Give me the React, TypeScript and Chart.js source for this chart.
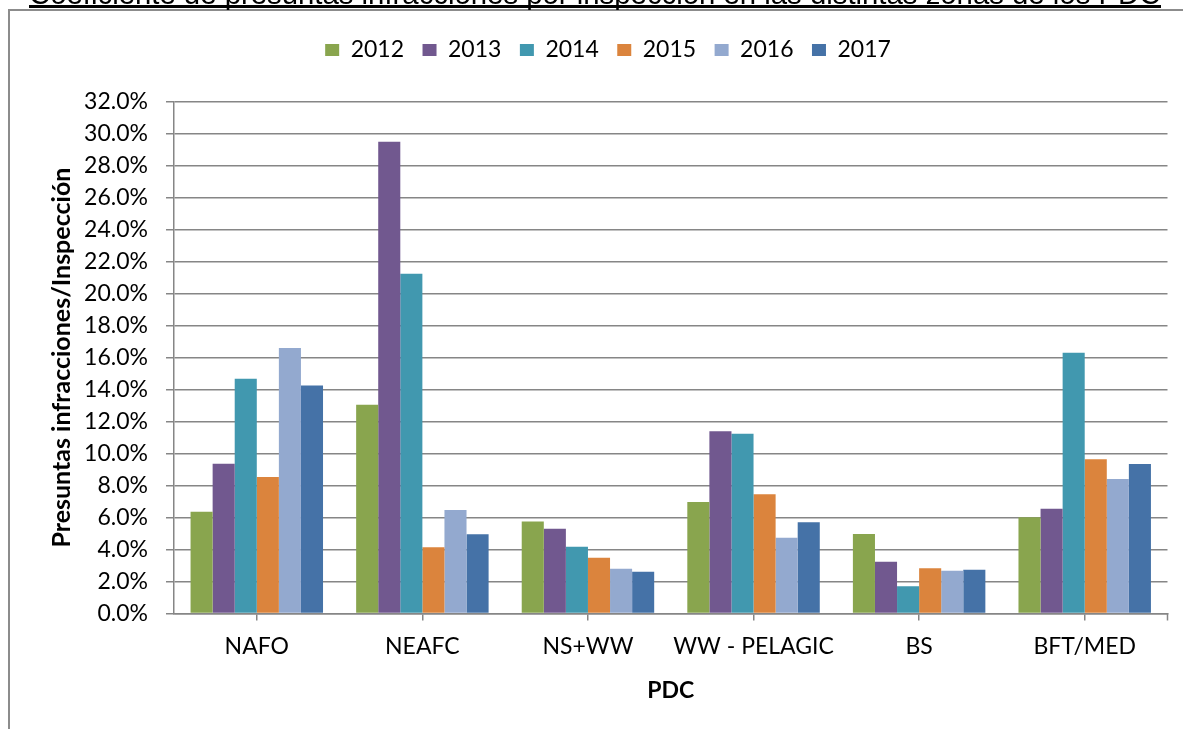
import React, { useEffect, useRef } from 'react';
import { Chart, registerables } from 'chart.js';

Chart.register(...registerables);

const categories = ['NAFO', 'NEAFC', 'NS+WW', 'WW - PELAGIC', 'BS', 'BFT/MED'];
const years = ['2012', '2013', '2014', '2015', '2016', '2017'];

const s2012 = [6.36, 13.05, 5.75, 6.97, 4.97, 6.02];
const s2013 = [9.36, 29.5, 5.3, 11.4, 3.24, 6.55];
const s2014 = [14.67, 21.24, 4.17, 11.24, 1.7, 16.3];
const s2015 = [8.54, 4.14, 3.49, 7.45, 2.83, 9.64];
const s2016 = [16.6, 6.47, 2.8, 4.74, 2.68, 8.41];
const s2017 = [14.25, 4.95, 2.61, 5.7, 2.74, 9.34];

const seriesValues = [s2012, s2013, s2014, s2015, s2016, s2017];
const seriesColors = ['#89A54E', '#71588F', '#4198AF', '#DB843D', '#93A9CF', '#4572A7'];

const yMin = 0;
const yMax = 32;
const yStep = 2;

const caption = 'Coeficiente de presuntas infracciones por inspección en las distintas zonas de los PDC';
const yTitle = 'Presuntas infracciones/Inspección';
const xTitle = 'PDC';

const FONT = 'Lato';
const GRID = '#868686';
const PAD_TOP = 20;
const PLOT_TOP = 101.7;

export default function App() {
  const ref = useRef<HTMLCanvasElement>(null);

  useEffect(() => {
    if (!ref.current) return;

    const framePlugin = {
      id: 'frameAndCaption',
      beforeLayout(chart: any) {
        const lg = chart.legend;
        if (lg && !lg.__patched) {
          const orig = lg.fit;
          lg.fit = function () {
            orig.call(this);
            this.height = PLOT_TOP - PAD_TOP;
          };
          lg.__patched = true;
        }
      },
      afterDraw(chart: any) {
        const ctx = chart.ctx as CanvasRenderingContext2D;
        ctx.save();
        // outer frame (only left and top visible)
        ctx.strokeStyle = '#8c8c8c';
        ctx.lineWidth = 2;
        ctx.beginPath();
        ctx.moveTo(9, 729);
        ctx.lineTo(9, 10);
        ctx.lineTo(1183, 10);
        ctx.stroke();
        // caption, mostly cut off at the top
        ctx.font = '100px "Liberation Sans"';
        const w = ctx.measureText(caption).width;
        const size = (100 * 1132) / w;
        ctx.font = `${size}px "Liberation Sans"`;
        ctx.fillStyle = '#000';
        ctx.textBaseline = 'alphabetic';
        ctx.textAlign = 'left';
        ctx.fillText(caption, 29, 4);
        ctx.fillRect(29, 5, 1132, 3);
        // end tick of the category axis
        const { right, bottom } = chart.chartArea;
        ctx.strokeStyle = GRID;
        ctx.lineWidth = 1.5;
        ctx.beginPath();
        ctx.moveTo(right, bottom);
        ctx.lineTo(right, bottom + 7);
        ctx.stroke();
        ctx.restore();
      },
    };

    const chart = new Chart(ref.current, {
      type: 'bar',
      data: {
        labels: categories,
        datasets: years.map((y, i) => ({
          label: y,
          data: seriesValues[i],
          backgroundColor: seriesColors[i],
          borderWidth: 0,
          categoryPercentage: 0.8,
          barPercentage: 1.0,
        })),
      },
      options: {
        responsive: false,
        animation: false,
        layout: { padding: { left: 48.5, right: 15.5, top: PAD_TOP, bottom: 10 } },
        plugins: {
          tooltip: { enabled: false },
          legend: {
            display: true,
            position: 'top',
            labels: {
              boxWidth: 14,
              boxHeight: 12,
              padding: 18.5,
              color: '#000',
              font: { family: FONT, size: 23 },
            },
          },
          title: { display: false },
        },
        scales: {
          x: {
            afterFit: (scale: any) => {
              scale.height = 105.5;
            },
            grid: {
              display: true,
              drawOnChartArea: false,
              drawTicks: true,
              tickLength: 7,
              offset: false,
              color: GRID,
              lineWidth: 1.5,
            },
            border: { color: GRID, width: 1.5 },
            ticks: { color: '#000', font: { family: FONT, size: 23 }, padding: 12, maxRotation: 0, autoSkip: false },
            title: {
              display: true,
              text: xTitle,
              color: '#000',
              font: { family: FONT, size: 23, weight: 'bold' },
              padding: { top: 0, bottom: 15 },
            },
          },
          y: {
            min: yMin,
            max: yMax,
            afterFit: (scale: any) => {
              scale.width = 125.5;
            },
            grid: { color: GRID, lineWidth: 1.5, drawTicks: true, tickLength: 8 },
            border: { color: GRID, width: 1.5 },
            ticks: {
              stepSize: yStep,
              color: '#000',
              font: { family: FONT, size: 23 },
              padding: 18,
              callback: (v: any) => Number(v).toFixed(1) + '%',
            },
            title: {
              display: true,
              text: yTitle,
              color: '#000',
              font: { family: FONT, size: 25, weight: 'bold' },
              padding: { top: -2, bottom: 0 },
            },
          },
        },
      },
      plugins: [framePlugin],
    } as any);

    return () => chart.destroy();
  }, []);

  return (
    <div style={{ position: 'fixed', left: 0, top: 0, width: 1183, height: 729, background: '#fff' }}>
      <canvas ref={ref} width={1183} height={729} style={{ display: 'block', width: 1183, height: 729 }} />
    </div>
  );
}
